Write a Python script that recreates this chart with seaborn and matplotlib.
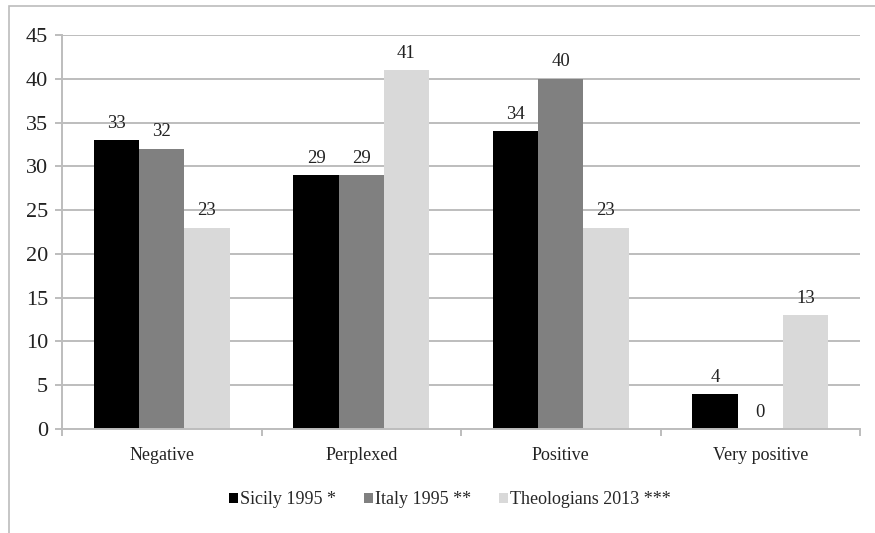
import matplotlib
matplotlib.use("Agg")
import matplotlib.pyplot as plt
from matplotlib.patches import Rectangle
import seaborn as sns
import pandas as pd

categories = ["Negative", "Perplexed", "Positive", "Very positive"]
series_names = ["Sicily 1995 *", "Italy 1995 **", "Theologians 2013 ***"]
sicily_1995 = [33, 29, 34, 4]
italy_1995 = [32, 29, 40, 0]
theologians_2013 = [23, 41, 23, 13]
y_ticks = [0, 5, 10, 15, 20, 25, 30, 35, 40, 45]

colors = ["#000000", "#808080", "#d9d9d9"]

rows = []
for name, vals in zip(series_names, [sicily_1995, italy_1995, theologians_2013]):
    for cat, v in zip(categories, vals):
        rows.append({"category": cat, "series": name, "value": v})
df = pd.DataFrame(rows)

sns.set_style("white")
plt.rcParams["font.family"] = ["Liberation Serif", "DejaVu Serif"]

fig = plt.figure(figsize=(8.75, 5.33), dpi=100)
ax = fig.add_axes([62 / 875, 1 - 429 / 533, (860 - 62) / 875, (429 - 35) / 533])

sns.barplot(data=df, x="category", y="value", hue="series", order=categories,
            hue_order=series_names, palette=colors, width=0.68, gap=0,
            saturation=1, edgecolor="none", linewidth=0, ax=ax, legend=True)

# outer frame around the chart
fig.patches.append(Rectangle((9 / 875, -0.1), 1.2, 1 - 6 / 533 + 0.1,
                             transform=fig.transFigure, fill=False,
                             edgecolor="#bcbcbc", linewidth=1.2))

ax.set_ylim(0, 45)
ax.set_xlim(-0.5, 3.5)
ax.set_yticks(y_ticks)
ax.set_yticklabels([str(t) for t in y_ticks], fontsize=16, color="#222222")
ax.yaxis.grid(True, color="#bdbdbd", linewidth=1.4)
ax.set_axisbelow(True)
ax.set_xlabel("")
ax.set_ylabel("")

ax.set_xticks([-0.5, 0.5, 1.5, 2.5, 3.5])
ax.set_xticklabels([])
ax.set_xticks([0, 1, 2, 3], minor=True)
ax.set_xticklabels(categories, minor=True, fontsize=13, color="#222222")
ax.tick_params(axis="x", which="minor", length=0, pad=13)
ax.tick_params(axis="x", which="major", length=5, color="#bdbdbd", width=1.4, direction="out", bottom=True)
ax.tick_params(axis="y", length=5, color="#bdbdbd", width=1.4, direction="out", left=True, pad=5)

for side in ["top", "right"]:
    ax.spines[side].set_visible(False)
for side in ["left", "bottom"]:
    ax.spines[side].set_color("#bdbdbd")
    ax.spines[side].set_linewidth(1.4)

for container in ax.containers:
    ax.bar_label(container, fmt="%d", padding=6, fontsize=13.5, color="#222222")

handles, labels = ax.get_legend_handles_labels()
ax.legend(handles, labels, loc="center", bbox_to_anchor=(0.486, -0.18),
          ncol=3, frameon=False, fontsize=13, handlelength=0.5,
          handleheight=0.5, handletextpad=0.1, columnspacing=1.55)

fig.savefig("out.png", dpi=100)
